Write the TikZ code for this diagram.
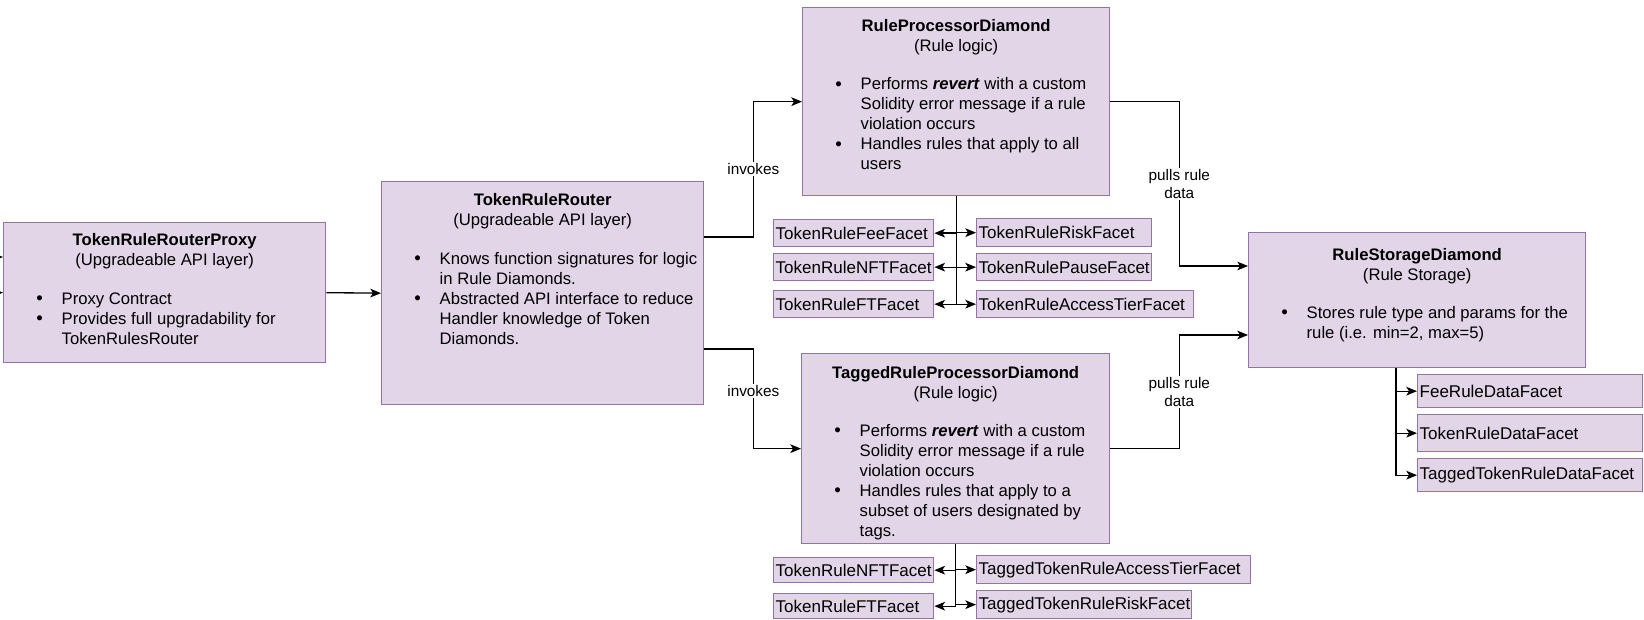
\documentclass[tikz,border=0pt]{standalone}
\usepackage{fontspec}
\setmainfont{Liberation Sans}
\usetikzlibrary{arrows.meta}

\definecolor{cardfill}{HTML}{E1D5E7}
\definecolor{cardline}{HTML}{9673A6}

% Body of a diamond card: #1 width, #2 height, #3 first baseline (all in px),
% #4 title, #5 subtitle, #6 gap before the bullets (px), #7 bullet lines
\newcommand\cardbody[7]{%
  \parbox[t][\dimexpr#2pt*3/4\relax][t]{\dimexpr#1pt*3/4\relax}{%
    \fontsize{12.5pt}{15pt}\selectfont\parskip=0pt\lineskiplimit=-20pt
    \centering\rule{0pt}{\dimexpr#3pt*3/4\relax}\textbf{#4}\\#5\par
    \vspace{\dimexpr#6pt*3/4-15pt\relax}%
    \raggedright\leftskip=43.5pt\rightskip=-40pt plus 1fil #7\par}}
\newcommand\itm{\leavevmode\llap{\makebox[19pt][l]{\fontsize{14pt}{14pt}\selectfont\raisebox{-0.4pt}{\textbullet}}}}

\tikzset{
  card/.style={draw=cardline, fill=cardfill, line width=1pt, inner sep=0pt,
    anchor=north west},
  facet/.style={draw=cardline, fill=cardfill, line width=1pt, anchor=north west,
    inner xsep=1.5pt, inner ysep=0pt, align=left,
    font=\fontsize{12.75pt}{14pt}\selectfont},
  conn/.style={draw=black, line width=1pt,
    -{Stealth[length=8pt, width=6.5pt, inset=2pt]}},
  lbl/.style={fill=white, inner sep=1pt, align=center,
    font=\fontsize{11.5pt}{13.5pt}\selectfont},
}

\begin{document}
\begin{tikzpicture}[x=0.75pt, y=-0.75pt]
\fill[white] (0,0) rectangle (1644,620);
\useasboundingbox (0,0) rectangle (1644,620);

% main cards
\node[card] (proxy) at (3,222) {\cardbody{322}{140}{22.5}{TokenRuleRouterProxy}{(Upgradeable API layer)}{39}{%
  \itm Proxy Contract\\
  \itm Provides full upgradability for\\
  TokenRulesRouter}};

\node[card] (router) at (381,181) {\cardbody{322}{223}{23.5}{TokenRuleRouter}{(Upgradeable API layer)}{39}{%
  \itm Knows function signatures for logic\\
  in Rule Diamonds.\\
  \itm Abstracted API interface to reduce\\
  Handler knowledge of Token\\
  Diamonds.}};

\node[card] (rp) at (802,7) {\cardbody{307}{188}{24}{RuleProcessorDiamond}{(Rule logic)}{38}{%
  \itm Performs \textbf{\textit{revert}} with a custom\\
  Solidity error message if a rule\\
  violation occurs\\
  \itm Handles rules that apply to all\\
  users}};

\node[card] (tagged) at (801,353) {\cardbody{308}{190}{24.5}{TaggedRuleProcessorDiamond}{(Rule logic)}{38}{%
  \itm Performs \textbf{\textit{revert}} with a custom\\
  Solidity error message if a rule\\
  violation occurs\\
  \itm Handles rules that apply to a\\
  subset of users designated by\\
  tags.}};

\node[card] (storage) at (1248,232) {\cardbody{337}{135}{27.5}{RuleStorageDiamond}{(Rule Storage)}{38}{%
  \itm Stores rule type and params for the\\
  rule (i.e. min=2, max=5)}};

% facets of the rule processor
\node[facet, text width=117pt, minimum height=20.25pt] (fee) at (773,219) {TokenRuleFeeFacet};
\node[facet, text width=117pt, minimum height=20.25pt] (nft) at (773,253) {TokenRuleNFTFacet};
\node[facet, text width=117pt, minimum height=20.25pt] (ft) at (773,290) {TokenRuleFTFacet};
\node[facet, text width=128.25pt, minimum height=21pt] (risk) at (976,218) {TokenRuleRiskFacet};
\node[facet, text width=128.25pt, minimum height=20.25pt] (pause) at (976,253) {TokenRulePauseFacet};
\node[facet, text width=159.75pt, minimum height=20.25pt] (access) at (976,290) {TokenRuleAccessTierFacet};

% facets of the tagged rule processor
\node[facet, text width=117pt, minimum height=18.75pt] (tnft) at (773,557) {TokenRuleNFTFacet};
\node[facet, text width=117pt, minimum height=18.75pt] (tft) at (773,593) {TokenRuleFTFacet};
\node[facet, text width=202.5pt, minimum height=21pt] (taccess) at (976,555) {TaggedTokenRuleAccessTierFacet};
\node[facet, text width=158.25pt, minimum height=21pt] (trisk) at (976,590) {TaggedTokenRuleRiskFacet};

% facets of the rule storage
\node[facet, text width=165.75pt, minimum height=24.75pt] (feedata) at (1417,374) {FeeRuleDataFacet};
\node[facet, text width=165.75pt, minimum height=27.75pt] (tokendata) at (1417,414) {TokenRuleDataFacet};
\node[facet, text width=165.75pt, minimum height=24.75pt] (taggeddata) at (1417,458) {TaggedTokenRuleDataFacet};

% incoming calls from the left
\coordinate (ext1) at (-30,257);
\coordinate (ext2) at (-30,292);
\draw[conn] (ext1) -- (proxy.west |- ext1);
\draw[conn] (ext2) -- (proxy.west);

% main flow
\draw[conn] (proxy.east) -- (router.west);
\draw[conn] ([yshift=-42pt]router.north east) -- ++(49,0)
  |- node[lbl, pos=0.25] {invokes} (rp.west);
\draw[conn] ([yshift=-126pt]router.north east) -- ++(49,0)
  |- node[lbl, pos=0.21] {invokes} (tagged.west);
\draw[conn] (rp.east) -- ++(69,0)
  |- node[lbl, pos=0.25] {pulls rule\\data} ([yshift=-25.5pt]storage.north west);
\draw[conn] (tagged.east) -- ++(69,0)
  |- node[lbl, pos=0.25] {pulls rule\\data} ([yshift=-77.25pt]storage.north west);

% facet links
\foreach \f in {fee, nft, ft} \draw[conn] (rp.south) |- (\f.east);
\foreach \f in {risk, pause, access} \draw[conn] (rp.south) |- (\f.west);
\foreach \f in {tnft, tft} \draw[conn] (tagged.south) |- (\f.east);
\foreach \f in {taccess, trisk} \draw[conn] (tagged.south) |- (\f.west);
\foreach \f in {feedata, tokendata, taggeddata}
  \draw[conn] ([xshift=111pt]storage.south west) |- (\f.west);
\end{tikzpicture}
\end{document}
